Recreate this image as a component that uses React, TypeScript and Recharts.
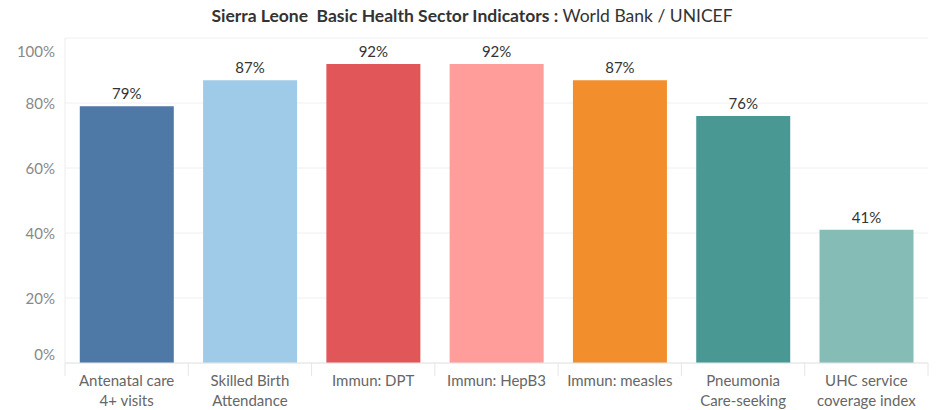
import React from 'react';
import { BarChart, Bar, XAxis, YAxis, CartesianGrid, LabelList, Cell } from 'recharts';

const categories = [
  'Antenatal care\n4+ visits',
  'Skilled Birth\nAttendance',
  'Immun: DPT',
  'Immun: HepB3',
  'Immun: measles',
  'Pneumonia\nCare-seeking',
  'UHC service\ncoverage index',
];
const values = [0.79, 0.87, 0.92, 0.92, 0.87, 0.76, 0.41];
const barColors = ['#4E79A7', '#A0CBE8', '#E15759', '#FF9D9A', '#F28E2B', '#499894', '#86BCB6'];
const yTicks = [0, 0.2, 0.4, 0.6, 0.8, 1];

const data = categories.map((name, i) => ({ name, value: values[i] }));

const FONT = 'Lato, "Open Sans", sans-serif';
const pct = (v: number) => `${Math.round(v * 100)}%`;

const XTick = (props: any) => {
  const { x, y, payload, width, index } = props;
  const band = width / categories.length;
  const lines = String(payload.value).split('\n');
  return (
    <g>
      {index === 0 && <line x1={x - band / 2} x2={x - band / 2} y1={y - 8} y2={y + 5} stroke="#e6e6e6" />}
      <line x1={x + band / 2} x2={x + band / 2} y1={y - 8} y2={y + 5} stroke="#e6e6e6" />
      {lines.map((l, i) => (
        <text key={i} x={x} y={y + 15 + i * 20} textAnchor="middle" fill="#666" fontSize={15} fontFamily={FONT}>
          {l}
        </text>
      ))}
    </g>
  );
};

const YTick = (props: any) => {
  const { x, y, payload } = props;
  let dy = 6;
  if (payload.value === 1) dy = 19;
  if (payload.value === 0) dy = -3;
  return (
    <text x={x - 2} y={y + dy} textAnchor="end" fill="#888" fontSize={15} fontFamily={FONT}>
      {pct(payload.value)}
    </text>
  );
};

export default function App() {
  return (
    <div style={{ position: 'absolute', left: 0, top: 0, width: 944, height: 410, background: '#fff' }}>
      <div
        style={{
          position: 'absolute',
          top: 5,
          left: 0,
          width: 944,
          textAlign: 'center',
          fontFamily: FONT,
          fontSize: 17.5,
          color: '#333',
        }}
      >
        <span style={{ fontWeight: 700 }}>Sierra Leone&nbsp; Basic Health Sector Indicators :</span> World Bank / UNICEF
      </div>
      <BarChart
        width={944}
        height={410}
        data={data}
        margin={{ top: 38, right: 16, bottom: 0, left: 0 }}
        barCategoryGap="12%"
      >
        <CartesianGrid vertical={false} stroke="#f0f0f0" />
        <XAxis
          dataKey="name"
          height={47}
          interval={0}
          axisLine={{ stroke: '#e6e6e6' }}
          tickLine={false}
          tick={<XTick />}
        />
        <YAxis
          width={65}
          domain={[0, 1]}
          ticks={yTicks}
          axisLine={{ stroke: '#ececec' }}
          tickLine={false}
          tick={<YTick />}
        />
        <Bar dataKey="value" isAnimationActive={false}>
          {data.map((d, i) => (
            <Cell key={d.name} fill={barColors[i]} />
          ))}
          <LabelList
            dataKey="value"
            position="top"
            offset={7}
            formatter={(v: any) => pct(Number(v))}
            fill="#333"
            fontSize={15}
            fontFamily={FONT}
          />
        </Bar>
      </BarChart>
    </div>
  );
}
